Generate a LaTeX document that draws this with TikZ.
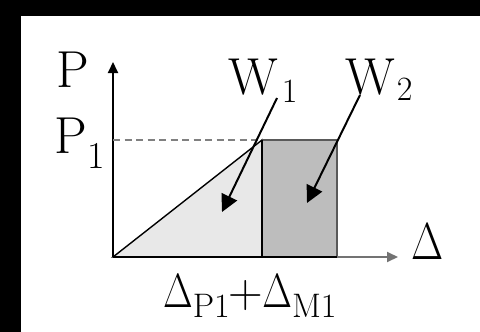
\RequirePackage{fix-cm}
\documentclass[tikz,border=0pt]{standalone}
\usetikzlibrary{arrows.meta}
\newcommand{\mainf}{\fontsize{52}{58}\selectfont}
\newcommand{\subf}{\fontsize{34}{38}\selectfont}
\newcommand{\botf}{\fontsize{48}{54}\selectfont}
\newcommand{\Dl}{\scalebox{0.8}[1]{$\Delta$}}
\begin{document}
\begin{tikzpicture}[x=1pt,y=-1pt,
  lbl/.style={inner sep=0pt, anchor=base west, font=\mainf},
  axis/.style={line width=2pt, draw=black!55, -{Triangle[length=11pt,width=10pt]}},
  pointer/.style={line width=2pt, -{Triangle[length=17pt,width=17pt]}}]
\useasboundingbox (0,0) rectangle (480,332);
\fill[black] (0,0) rectangle (480,332);
\fill[white] (21,16) rectangle (480,332);
% coordinates
\coordinate (O) at (113,257);
\coordinate (Ytip) at (113,62);
\coordinate (Xtip) at (398,257);
\coordinate (A) at (262,140);
\coordinate (B) at (262,257);
\coordinate (C) at (337,140);
\coordinate (D) at (337,257);
\coordinate (Y1) at (113,140);
% areas
\filldraw[fill=black!9, draw=black, line width=1.4pt] (O) -- (A) -- (B) -- cycle;
\filldraw[fill=black!26, draw=black!65, line width=2.4pt] (A) rectangle (D);
\draw[line width=2.2pt] (A) -- (B);
% axes
\draw[line width=2pt, -{Triangle[length=11pt,width=10pt]}] (O) -- (Ytip);
\draw[axis] (D) -- (Xtip);
\draw[line width=2.8pt] (O) -- (D);
\draw[black!50, line width=2.6pt, dash pattern=on 7pt off 4.5pt] (Y1) -- (A);
% labels
\node[lbl] (P) at (56,87) {P};
\node[lbl] (P1) at (54,153) {P\kern1pt\raisebox{-15pt}{\fontsize{38}{42}\selectfont 1}};
\node[lbl] (W1) at (228,94) {W\kern4pt\raisebox{-8pt}{\subf 1}};
\node[lbl] (W2) at (345,94) {W\kern2pt\raisebox{-6pt}{\subf 2}};
\node[lbl] (Dr) at (411,259) {\Dl};
\node[lbl, font=\botf] (Bl) at (163,307) {\Dl\raisebox{-10pt}{\subf P1}\kern-1pt+\kern-1pt\Dl\raisebox{-10pt}{\subf M1}};
% pointers
\coordinate (w1s) at (277,98);
\coordinate (w1e) at (222,212);
\coordinate (w2s) at (360,95);
\coordinate (w2e) at (307,203);
\draw[pointer] (w1s) -- (w1e);
\draw[pointer] (w2s) -- (w2e);
\end{tikzpicture}
\end{document}
